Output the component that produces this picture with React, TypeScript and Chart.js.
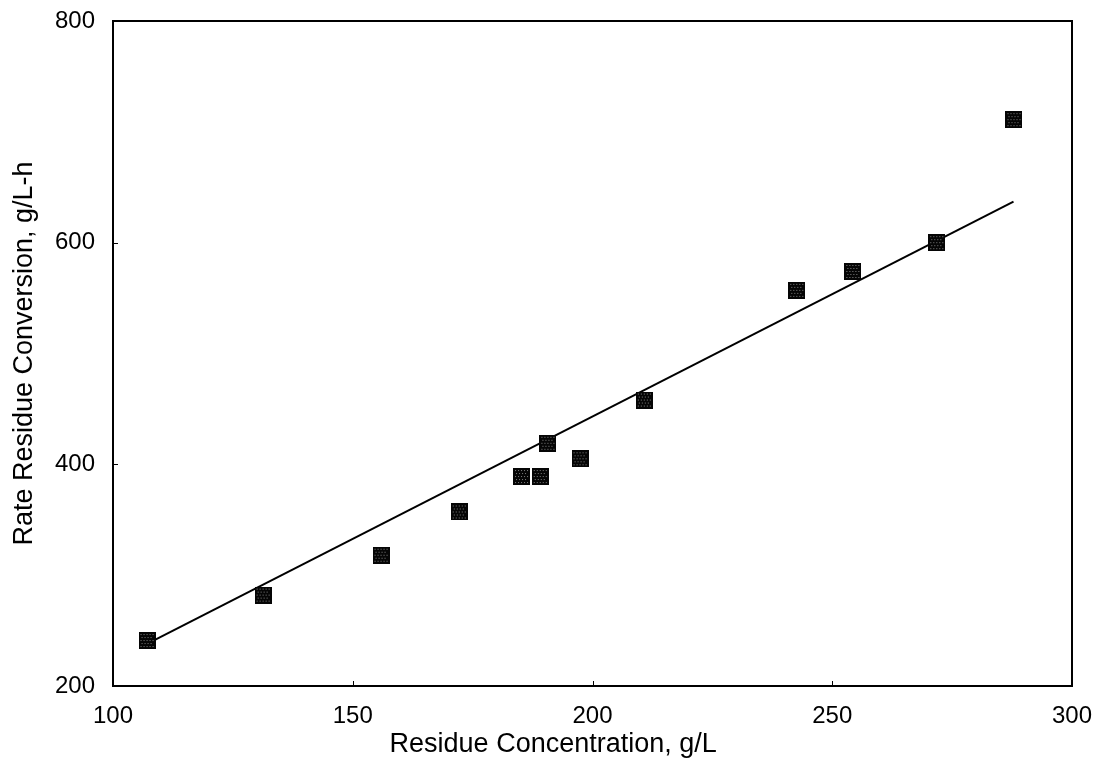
import React, { useEffect, useRef } from "react";
import { Chart, registerables } from "chart.js";

Chart.register(...registerables);

// Measured residue concentration (g/L) and conversion rate (g/L-h)
const residueConc = [107.1, 131.3, 155.9, 172.2, 185.2, 189.1, 190.7, 197.4, 210.8, 242.6, 254.3, 271.8, 287.9];
const conversionRate = [241, 282, 318, 357, 389, 389, 419, 405, 458, 557, 574, 600, 711];

// Straight-line fit endpoints
const fitConc = [107.1, 287.8];
const fitRate = [238, 637];

const xTicks = [100, 150, 200, 250, 300];
const yTicks = [200, 400, 600, 800];

const xTitle = "Residue Concentration, g/L";
const yTitle = "Rate Residue Conversion, g/L-h";

const FONT = "'Liberation Sans', Arial, Helvetica, sans-serif";

// Dark halftone square used as the point marker
function makeMarker(): HTMLCanvasElement {
  const size = 17;
  const c = document.createElement("canvas");
  c.width = size;
  c.height = size;
  const g = c.getContext("2d")!;
  g.fillStyle = "#050505";
  g.fillRect(0, 0, size, size);
  g.fillStyle = "rgba(255,255,255,0.5)";
  for (let row = 0; row * 3 + 2 < size - 1; row++) {
    for (let col = 0; col * 3 + 2 < size - 1; col++) {
      const px = 2 + col * 3 + (row % 2 ? 1 : 0);
      const py = 2 + row * 3;
      if (px < size - 2) g.fillRect(px, py, 1, 1);
    }
  }
  return c;
}

const framePlugin = {
  id: "frameAndTitle",
  afterDraw(chart: any) {
    const { ctx, chartArea, scales } = chart;
    const { left, right, top, bottom } = chartArea;
    ctx.save();
    ctx.strokeStyle = "#000";
    ctx.lineWidth = 2;
    ctx.strokeRect(left, top, right - left, bottom - top);

    // short inward tick marks
    ctx.lineWidth = 1;
    ctx.beginPath();
    for (const v of yTicks) {
      const y = Math.round(scales.y.getPixelForValue(v)) + 0.5;
      ctx.moveTo(left, y);
      ctx.lineTo(left + 5, y);
    }
    for (const v of xTicks) {
      const x = Math.round(scales.x.getPixelForValue(v)) + 0.5;
      ctx.moveTo(x, bottom);
      ctx.lineTo(x, bottom - 5);
    }
    ctx.stroke();

    // x-axis title
    ctx.fillStyle = "#000";
    ctx.font = `27px ${FONT}`;
    ctx.textAlign = "center";
    ctx.textBaseline = "middle";
    ctx.fillText(xTitle, left + (right - left) * 0.459, bottom + 59);
    ctx.restore();
  },
};

export default function App() {
  const canvasRef = useRef<HTMLCanvasElement | null>(null);

  useEffect(() => {
    const canvas = canvasRef.current;
    if (!canvas) return;
    const marker = makeMarker();

    const chart = new Chart(canvas, {
      type: "scatter",
      data: {
        datasets: [
          {
            label: "Measured",
            data: residueConc.map((x, i) => ({ x, y: conversionRate[i] })),
            pointStyle: marker as any,
            pointRadius: 9,
            showLine: false,
          },
          {
            label: "Fit",
            data: fitConc.map((x, i) => ({ x, y: fitRate[i] })),
            showLine: true,
            borderColor: "#000",
            borderWidth: 2,
            pointRadius: 0,
            fill: false,
          },
        ],
      },
      options: {
        animation: false,
        responsive: false,
        devicePixelRatio: 1,
        layout: { padding: { top: 21, right: 32, left: 0, bottom: 0 } },
        plugins: {
          legend: { display: false },
          tooltip: { enabled: false },
        },
        scales: {
          x: {
            type: "linear",
            min: 100,
            max: 300,
            afterBuildTicks: (scale: any) => {
              scale.ticks = xTicks.map((v) => ({ value: v }));
            },
            afterFit: (scale: any) => {
              scale.height = 88;
              scale.paddingLeft = 0;
              scale.paddingRight = 0;
            },
            grid: { display: false, drawTicks: false },
            border: { display: false },
            ticks: {
              color: "#000",
              padding: 16,
              maxRotation: 0,
              font: { family: FONT, size: 24 },
            },
          },
          y: {
            type: "linear",
            min: 200,
            max: 800,
            afterBuildTicks: (scale: any) => {
              scale.ticks = yTicks.map((v) => ({ value: v }));
            },
            afterFit: (scale: any) => {
              scale.width = 113;
              scale.paddingTop = 0;
              scale.paddingBottom = 0;
            },
            grid: { display: false, drawTicks: false },
            border: { display: false },
            ticks: {
              color: "#000",
              padding: 18,
              font: { family: FONT, size: 24 },
            },
            title: {
              display: true,
              text: yTitle,
              color: "#000",
              padding: { top: 8, bottom: 0 },
              font: { family: FONT, size: 27 },
            },
          },
        },
      },
      plugins: [framePlugin],
    });

    return () => chart.destroy();
  }, []);

  return (
    <div style={{ position: "fixed", left: 0, top: 0, width: 1104, height: 774, background: "#fff" }}>
      <canvas ref={canvasRef} width={1104} height={774} style={{ display: "block" }} />
    </div>
  );
}
